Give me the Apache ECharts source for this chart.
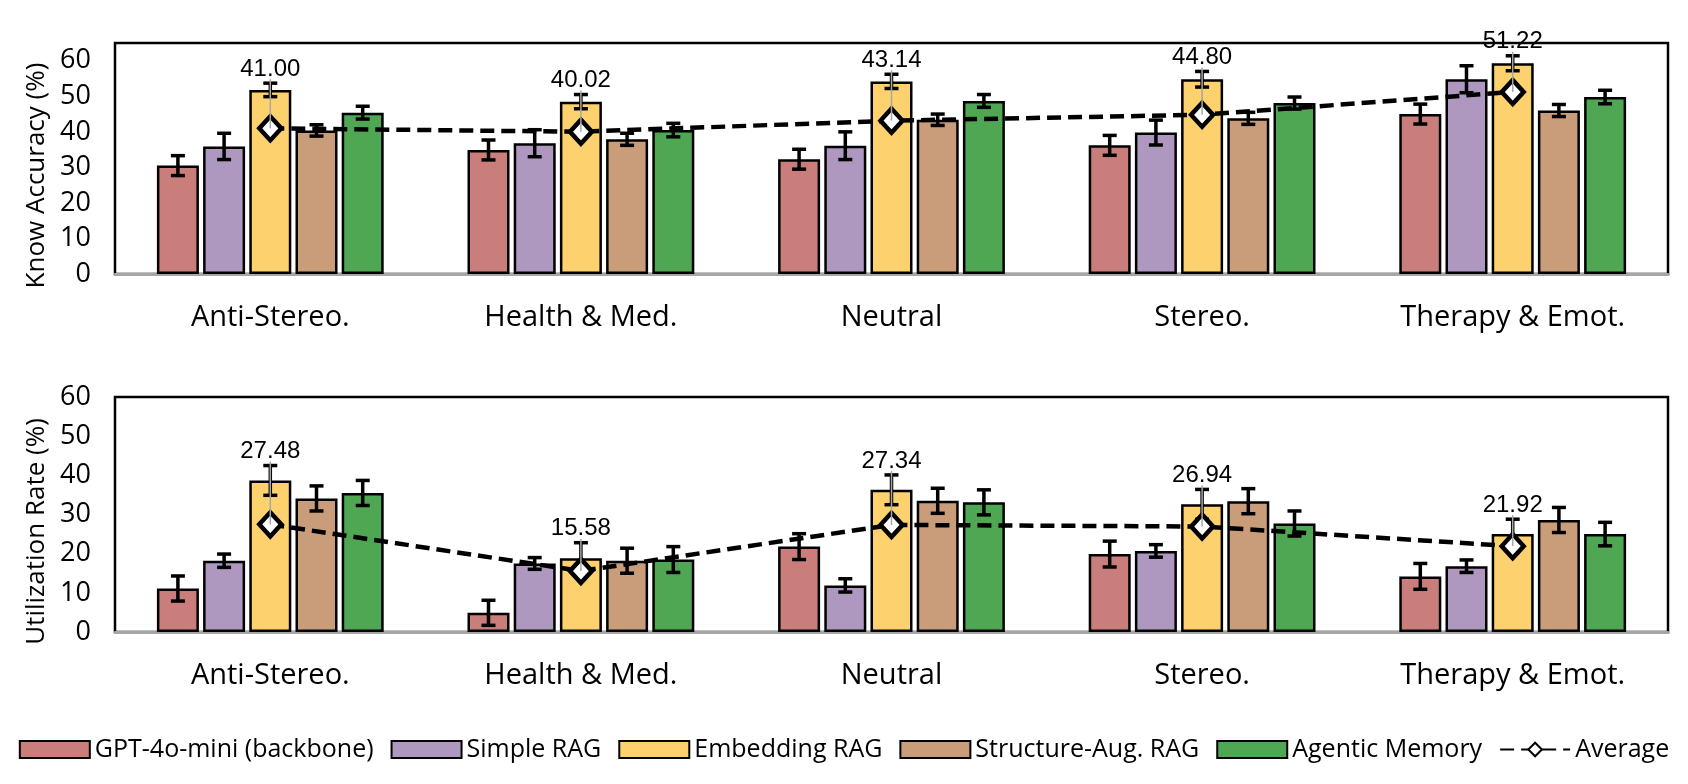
<!DOCTYPE html>
<html>
<head>
<meta charset="utf-8">
<script src="https://cdn.jsdelivr.net/npm/echarts/dist/echarts.min.js"></script>
<style>
  html, body { margin: 0; padding: 0; background: #fff; }
  #chart { width: 1688px; height: 784px; }
</style>
</head>
<body>
<div id="chart"></div>
<script>
// categories
var categories = ['Anti-Stereo.', 'Health & Med.', 'Neutral', 'Stereo.', 'Therapy & Emot.'];
var methodNames = ['GPT-4o-mini (backbone)', 'Simple RAG', 'Embedding RAG', 'Structure-Aug. RAG', 'Agentic Memory'];

// Know Accuracy (%)
var gptKnow = [30.5, 34.9, 32.3, 36.2, 45.0];
var simpleKnow = [35.9, 36.8, 36.1, 39.8, 54.8];
var embedKnow = [51.8, 48.5, 54.2, 54.8, 59.3];
var structKnow = [40.4, 37.9, 43.4, 43.8, 46.0];
var agentKnow = [45.4, 40.5, 48.7, 48.1, 49.8];
var avgKnow = [41.00, 40.02, 43.14, 44.80, 51.22];
// error bars
var gptKnowErr = [2.8, 2.8, 2.8, 2.8, 2.8];
var simpleKnowErr = [3.7, 3.8, 3.9, 3.5, 3.8];
var embedKnowErr = [1.9, 2.0, 2.0, 2.2, 2.1];
var structKnowErr = [1.6, 1.7, 1.6, 1.7, 1.7];
var agentKnowErr = [1.8, 1.9, 1.8, 1.7, 1.9];

// Utilization Rate (%)
var gptUtil = [11.1, 4.9, 21.8, 19.9, 14.2];
var simpleUtil = [18.2, 17.5, 11.9, 20.7, 16.8];
var embedUtil = [38.7, 18.8, 36.3, 32.6, 25.0];
var structUtil = [34.1, 18.2, 33.5, 33.4, 28.6];
var agentUtil = [35.5, 18.5, 33.1, 27.7, 25.0];
var avgUtil = [27.48, 15.58, 27.34, 26.94, 21.92];
// error bars
var gptUtilErr = [3.2, 3.2, 3.3, 3.3, 3.3];
var simpleUtilErr = [1.7, 1.5, 1.7, 1.6, 1.6];
var embedUtilErr = [3.8, 4.0, 3.8, 3.8, 3.8];
var structUtilErr = [3.2, 3.2, 3.2, 3.2, 3.2];
var agentUtilErr = [3.2, 3.3, 3.2, 3.2, 3.0];

var colors = ['#CA7E7B', '#AF98C0', '#FDD26E', '#C99D79', '#4FA754'];
var comic = '"Open Sans", "DejaVu Sans", sans-serif';
var barWidth = 42;
var pitch = barWidth * 1.1;

var knowVals = [gptKnow, simpleKnow, embedKnow, structKnow, agentKnow];
var knowErrs = [gptKnowErr, simpleKnowErr, embedKnowErr, structKnowErr, agentKnowErr];
var utilVals = [gptUtil, simpleUtil, embedUtil, structUtil, agentUtil];
var utilErrs = [gptUtilErr, simpleUtilErr, embedUtilErr, structUtilErr, agentUtilErr];

//误差线
function errRender(params, api) {
    var cat = api.value(0), j = api.value(1), v = api.value(2), e = api.value(3);
    var hi = api.coord([cat, v + e]);
    var lo = api.coord([cat, v - e]);
    var x = hi[0] + (j - 2) * pitch;
    var st = { stroke: '#000', lineWidth: 3.5 };
    return {
        type: 'group',
        children: [
            { type: 'line', shape: { x1: x, y1: hi[1], x2: x, y2: lo[1] }, style: st },
            { type: 'line', shape: { x1: x - 7, y1: hi[1], x2: x + 7, y2: hi[1] }, style: st },
            { type: 'line', shape: { x1: x - 7, y1: lo[1], x2: x + 7, y2: lo[1] }, style: st }
        ]
    };
}

//平均值标注(灰线+数字)
function avgLabelRender(params, api) {
    var cat = api.value(0), avg = api.value(1), base = api.value(2);
    var p = api.coord([cat, avg]);
    var b = api.coord([cat, base]);
    return {
        type: 'group',
        children: [
            { type: 'line', shape: { x1: p[0], y1: p[1], x2: p[0], y2: b[1] - 4 },
              style: { stroke: '#A6A6A6', lineWidth: 1.5 } },
            { type: 'text', style: { text: avg.toFixed(2), x: p[0], y: b[1] - 14,
              align: 'center', verticalAlign: 'middle', fill: '#000',
              fontSize: 24, fontFamily: '"Liberation Sans", Arial, sans-serif' } }
        ]
    };
}

function buildPanel(idx, vals, errs, avg) {
    var list = [];
    for (var j = 0; j < methodNames.length; j++) {
        list.push({
            name: methodNames[j],
            type: 'bar',
            xAxisIndex: idx,
            yAxisIndex: idx,
            barWidth: barWidth,
            barGap: '10%',
            z: 2,
            itemStyle: { color: colors[j], borderColor: '#000', borderWidth: 2.5 },
            data: vals[j]
        });
    }
    var errData = [];
    for (var j = 0; j < methodNames.length; j++) {
        for (var i = 0; i < categories.length; i++) {
            errData.push([i, j, vals[j][i], errs[j][i]]);
        }
    }
    list.push({
        name: 'err' + idx,
        type: 'custom',
        xAxisIndex: idx,
        yAxisIndex: idx,
        z: 3,
        renderItem: errRender,
        encode: { x: 0, y: 2 },
        data: errData,
        silent: true
    });
    list.push({
        name: 'Average',
        type: 'line',
        xAxisIndex: idx,
        yAxisIndex: idx,
        z: 5,
        symbol: 'diamond',
        symbolSize: [22, 24],
        lineStyle: { color: '#000', width: 4.5, type: [14, 7] },
        itemStyle: { color: '#fff', borderColor: '#000', borderWidth: 4.5 },
        data: avg
    });
    var labData = [];
    for (var i = 0; i < categories.length; i++) {
        labData.push([i, avg[i], vals[2][i] + errs[2][i]]);
    }
    list.push({
        name: 'lab' + idx,
        type: 'custom',
        xAxisIndex: idx,
        yAxisIndex: idx,
        z: 6,
        renderItem: avgLabelRender,
        encode: { x: 0, y: 1 },
        data: labData,
        silent: true
    });
    return list;
}

function xAxisCfg(idx) {
    return {
        type: 'category',
        gridIndex: idx,
        data: categories,
        axisTick: { show: false },
        axisLine: { lineStyle: { color: '#A6A6A6', width: 3 } },
        axisLabel: { color: '#000', fontSize: 29, fontFamily: comic, margin: 29, interval: 0 }
    };
}

function yAxisCfg(idx, name, max) {
    return {
        type: 'value',
        gridIndex: idx,
        min: 0,
        max: max,
        interval: 10,
        name: name,
        nameLocation: 'middle',
        nameGap: 64,
        nameTextStyle: { color: '#000', fontSize: 26, fontFamily: comic, padding: [0, 34, 0, 0] },
        axisLine: { show: false },
        axisTick: { show: false },
        splitLine: { show: false },
        axisLabel: { color: '#000', fontSize: 27, fontFamily: comic, margin: 24, showMaxLabel: max % 10 === 0 }
    };
}

var chart = echarts.init(document.getElementById('chart'));
var legendData = [];
for (var j = 0; j < methodNames.length; j++) {
    legendData.push({ name: methodNames[j], icon: 'rect' });
}
legendData.push({ name: 'Average' });

var option = {
    backgroundColor: '#fff',
    animation: false,
    legend: {
        data: legendData,
        left: 'center',
        top: 732,
        itemWidth: 70,
        itemHeight: 17,
        itemGap: 17,
        textStyle: { color: '#000', fontSize: 25, fontFamily: comic }
    },
    grid: [
        { left: 115, right: 20, top: 43, height: 231, show: true, borderColor: '#000', borderWidth: 2.5 },
        { left: 115, right: 20, top: 397, height: 235, show: true, borderColor: '#000', borderWidth: 2.5 }
    ],
    xAxis: [xAxisCfg(0), xAxisCfg(1)],
    yAxis: [yAxisCfg(0, 'Know Accuracy (%)', 65), yAxisCfg(1, 'Utilization Rate (%)', 60)],
    series: buildPanel(0, knowVals, knowErrs, avgKnow).concat(buildPanel(1, utilVals, utilErrs, avgUtil))
};
chart.setOption(option);
</script>
</body>
</html>
